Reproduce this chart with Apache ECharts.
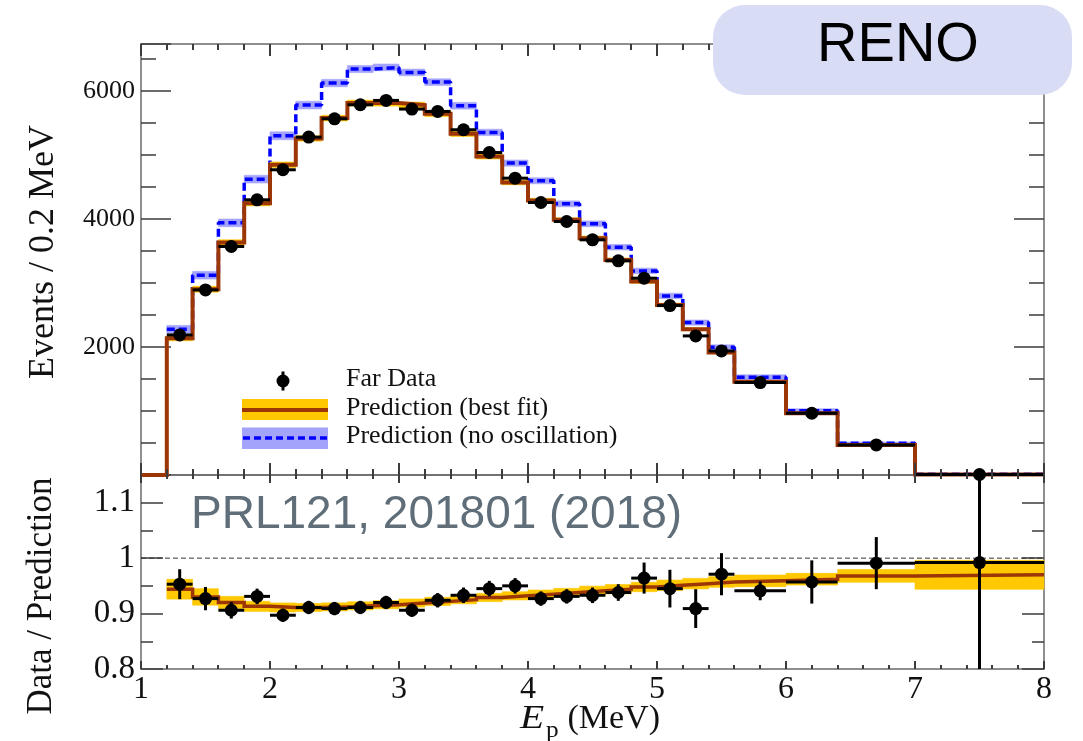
<!DOCTYPE html>
<html>
<head>
<meta charset="utf-8">
<script src="https://cdn.jsdelivr.net/npm/echarts@6/dist/echarts.min.js"></script>
<style>
  html, body { margin: 0; padding: 0; background: #fff; }
  #chart { width: 1083px; height: 741px; }
</style>
</head>
<body>
<div id="chart"></div>
<script>
// Prompt energy bin edges (MeV); the first bin 1.0-1.2 is below threshold
const binEdges = [1.0, 1.2, 1.4, 1.6, 1.8, 2.0, 2.2, 2.4, 2.6, 2.8, 3.0, 3.2, 3.4, 3.6, 3.8,
                  4.0, 4.2, 4.4, 4.6, 4.8, 5.0, 5.2, 5.4, 5.6, 6.0, 6.4, 7.0, 8.0];
// measured bins start at 1.2 MeV
const measEdges = binEdges.slice(1);

// Far detector data, events / 0.2 MeV
const farData    = [2187, 2890, 3568, 4297, 4766, 5276, 5562, 5781, 5849, 5714, 5677, 5391, 5036,
                    4635, 4255, 3958, 3672, 3344, 3073, 2646, 2172, 1937, 1443, 964, 469, 8];
const farDataErr = [47, 54, 60, 66, 69, 73, 75, 76, 76, 76, 75, 73, 71,
                    68, 65, 63, 61, 58, 55, 51, 47, 44, 38, 31, 22, 3];
// best-fit prediction (includes the empty 1.0-1.2 bin)
const bestFit    = [0, 2136, 2901, 3630, 4245, 4844, 5255, 5573, 5807, 5807, 5776, 5641, 5328, 4974,
                    4568, 4286, 3984, 3698, 3359, 3021, 2656, 2276, 1911, 1458, 964, 469, 8];
// relative uncertainty of the best-fit prediction, per measured bin
const fitRelErr  = [0.019, 0.016, 0.012, 0.010, 0.009, 0.008, 0.008, 0.008, 0.008, 0.008, 0.008, 0.008, 0.008,
                    0.008, 0.008, 0.008, 0.009, 0.009, 0.009, 0.010, 0.010, 0.010, 0.011, 0.011, 0.012, 0.027];
// no-oscillation prediction and its uncertainty
const noOsc      = [2276, 3120, 3937, 4620, 5297, 5776, 6120, 6339, 6365, 6286, 6135, 5766, 5349,
                    4870, 4594, 4234, 3922, 3557, 3187, 2797, 2380, 1995, 1526, 1005, 495, 10];
const noOscErr   = [60, 60, 60, 60, 62, 60, 58, 55, 52, 52, 52, 52, 50,
                    48, 47, 46, 45, 44, 43, 42, 40, 38, 38, 30, 20, 2];

// Data / Prediction (no oscillation)
const ratioData  = [0.953, 0.927, 0.906, 0.931, 0.897, 0.911, 0.909, 0.911, 0.920, 0.906, 0.924, 0.933, 0.945,
                    0.950, 0.927, 0.931, 0.933, 0.938, 0.964, 0.945, 0.909, 0.971, 0.941, 0.957, 0.991, 0.992];
const ratioErr   = [0.027, 0.021, 0.015, 0.014, 0.012, 0.012, 0.012, 0.012, 0.012, 0.012, 0.013, 0.014, 0.014,
                    0.014, 0.013, 0.013, 0.014, 0.015, 0.028, 0.034, 0.035, 0.038, 0.017, 0.039, 0.047, 0.40];
// best fit / no oscillation
const ratioFit   = [0.944, 0.930, 0.920, 0.913, 0.911, 0.911, 0.912, 0.914, 0.916, 0.919, 0.922, 0.925, 0.929,
                    0.932, 0.935, 0.938, 0.941, 0.944, 0.948, 0.951, 0.954, 0.957, 0.959, 0.962, 0.968, 0.970];
const unityRatio = 1;

// axis ranges and tick spacing
const xRange = [1, 8];
const xMajor = 1, xMinor = 0.2;
const yTopRange = [0, 6730];
const yTopMajor = 2000, yTopMinor = 500;
const yBotRange = [0.8, 1.15];
const yBotMajor = 0.1, yBotMinor = 0.05;

const SERIF = '"Liberation Serif", "DejaVu Serif", serif';
const SANS = '"Liberation Sans", Arial, sans-serif';
const FRAME = '#6a6a6a';
const TICK = '#3c3c3c';
const BROWN = '#9c3606';
const ORANGE = '#ffc800';
const BLUE = '#0000ff';
const LIGHTBLUE = '#a3a3fc';

// histogram outline as step points: one point per bin low edge plus the last edge
function stepPoints(edges, vals) {
  const pts = vals.map((v, i) => [edges[i], v]);
  pts.push([edges[vals.length], vals[vals.length - 1]]);
  return pts;
}

function bandData(edges, vals, lowOf, highOf) {
  return vals.map((v, i) => [edges[i], edges[i + 1], lowOf(v, i), highOf(v, i)]);
}

function bandRenderer(color) {
  return function (params, api) {
    const p0 = api.coord([api.value(0), api.value(3)]);
    const p1 = api.coord([api.value(1), api.value(2)]);
    return {
      type: 'rect',
      shape: { x: p0[0], y: p0[1], width: p1[0] - p0[0], height: p1[1] - p0[1] },
      style: { fill: color, stroke: color, lineWidth: 0.6 }
    };
  };
}

function pointData(edges, vals, errs) {
  return vals.map((v, i) => [(edges[i] + edges[i + 1]) / 2, edges[i], edges[i + 1], v, errs[i]]);
}

function pointRenderer(params, api) {
  const cs = params.coordSys;
  const xc = api.value(0), lo = api.value(1), hi = api.value(2), v = api.value(3), e = api.value(4);
  const c = api.coord([xc, v]);
  const a = api.coord([lo, v]);
  const b = api.coord([hi, v]);
  let top = api.coord([xc, v + e])[1];
  let bot = api.coord([xc, v - e])[1];
  top = Math.max(top, cs.y);
  bot = Math.min(bot, cs.y + cs.height);
  return {
    type: 'group',
    children: [
      { type: 'line', shape: { x1: a[0], y1: c[1], x2: b[0], y2: c[1] }, style: { stroke: '#000', lineWidth: 3 } },
      { type: 'line', shape: { x1: c[0], y1: top, x2: c[0], y2: bot }, style: { stroke: '#000', lineWidth: 3 } },
      { type: 'circle', shape: { cx: c[0], cy: c[1], r: 6.5 }, style: { fill: '#000' } }
    ]
  };
}

// energy-axis ticks on the top and bottom edges of a panel (major every 1 MeV, minor every 0.2 MeV)
const xTickSteps = Math.round((xRange[1] - xRange[0]) / xMinor);
function xTickData(yRef) {
  const out = [];
  for (let k = 0; k <= xTickSteps; k++) {
    const v = +(xRange[0] + k * xMinor).toFixed(3);
    const major = Math.abs(v / xMajor - Math.round(v / xMajor)) < 1e-6 ? 1 : 0;
    out.push([v, major, yRef]);
  }
  return out;
}
function xTickRenderer(majorLen, minorLen) {
  return function (params, api) {
    const cs = params.coordSys;
    const x = Math.round(api.coord([api.value(0), api.value(2)])[0]);
    const len = api.value(1) ? majorLen : minorLen;
    return {
      type: 'group',
      children: [
        { type: 'rect', shape: { x: x - 1, y: cs.y, width: 2, height: len }, style: { fill: TICK } },
        { type: 'rect', shape: { x: x - 1, y: cs.y + cs.height - len, width: 2, height: len }, style: { fill: TICK } }
      ]
    };
  };
}

function xAxisDef(gridIndex, position, labelOpt) {
  return {
    type: 'value', gridIndex, position, min: xRange[0], max: xRange[1], interval: xMajor,
    axisLine: { show: true, onZero: false, lineStyle: { color: FRAME, width: 1.5 } },
    axisTick: { show: false },
    axisLabel: labelOpt || { show: false },
    splitLine: { show: false }
  };
}

function yAxisDef(gridIndex, position, range, interval, tickLen, labelOpt, showLine) {
  return {
    type: 'value', gridIndex, position, min: range[0], max: range[1], interval,
    axisLine: { show: showLine, onZero: false, lineStyle: { color: FRAME, width: 1.5 } },
    axisTick: { show: true, inside: true, length: tickLen, lineStyle: { color: TICK, width: 1.5 } },
    axisLabel: labelOpt || { show: false },
    splitLine: { show: false }
  };
}

const xLabels = { show: true, margin: 5, fontSize: 32, fontFamily: SERIF, color: '#111' };
const topLabels = {
  show: true, margin: 6, fontSize: 26, fontFamily: SERIF, color: '#111',
  formatter: v => (v > 0 && v % yTopMajor === 0) ? String(v) : ''
};
const botLabels = {
  show: true, margin: 6, fontSize: 33, fontFamily: SERIF, color: '#111',
  formatter: v => {
    const k = Math.round(v * 10);
    return Math.abs(v * 10 - k) < 1e-6 ? String(k / 10) : '';
  }
};

function titleText(x, y, text, font, align, extra) {
  return Object.assign({
    type: 'text', x, y, z: 10,
    style: { text, font, fill: '#111', textAlign: align, align,
             textVerticalAlign: 'middle', verticalAlign: 'middle' }
  }, extra || {});
}

const chart = echarts.init(document.getElementById('chart'), null, { renderer: 'canvas' });

const option = {
  animation: false,
  backgroundColor: '#fff',
  grid: [
    { left: 141, top: 44, width: 903, height: 431, containLabel: false, outerBoundsMode: 'none' },
    { left: 141, top: 475, width: 903, height: 194, containLabel: false, outerBoundsMode: 'none' }
  ],
  xAxis: [
    xAxisDef(0, 'bottom'),
    xAxisDef(0, 'top'),
    xAxisDef(1, 'bottom', xLabels),
    xAxisDef(1, 'top')
  ],
  yAxis: [
    yAxisDef(0, 'left', yTopRange, yTopMajor, 30, topLabels, true),
    yAxisDef(0, 'right', yTopRange, yTopMajor, 30, null, true),
    yAxisDef(0, 'left', yTopRange, yTopMinor, 15, null, false),
    yAxisDef(0, 'right', yTopRange, yTopMinor, 15, null, false),
    yAxisDef(1, 'left', yBotRange, yBotMajor, 22, botLabels, true),
    yAxisDef(1, 'right', yBotRange, yBotMajor, 22, null, true),
    yAxisDef(1, 'left', yBotRange, yBotMinor, 12, null, false),
    yAxisDef(1, 'right', yBotRange, yBotMinor, 12, null, false)
  ],
  series: [
    // ---- upper panel ----
    {
      name: 'noOscBand', type: 'custom', xAxisIndex: 0, yAxisIndex: 0, z: 2,
      renderItem: bandRenderer(LIGHTBLUE),
      encode: { x: [0, 1], y: [2, 3] },
      data: bandData(measEdges, noOsc, (v, i) => v - noOscErr[i], (v, i) => v + noOscErr[i])
    },
    {
      name: 'Prediction (no oscillation)', type: 'line', xAxisIndex: 0, yAxisIndex: 0, z: 3,
      step: 'end', symbol: 'none', clip: false,
      lineStyle: { color: BLUE, width: 3.5, type: [8, 4] },
      data: stepPoints(measEdges, noOsc)
    },
    {
      name: 'fitBand', type: 'custom', xAxisIndex: 0, yAxisIndex: 0, z: 4,
      renderItem: bandRenderer(ORANGE),
      encode: { x: [0, 1], y: [2, 3] },
      data: bandData(measEdges, bestFit.slice(1), (v, i) => v * (1 - fitRelErr[i]), (v, i) => v * (1 + fitRelErr[i]))
    },
    {
      name: 'Prediction (best fit)', type: 'line', xAxisIndex: 0, yAxisIndex: 0, z: 5,
      step: 'end', symbol: 'none', clip: false,
      lineStyle: { color: BROWN, width: 4, join: 'miter' },
      data: stepPoints(binEdges, bestFit)
    },
    {
      name: 'Far Data', type: 'custom', xAxisIndex: 0, yAxisIndex: 0, z: 6, clip: false,
      renderItem: pointRenderer,
      encode: { x: 0, y: 3 },
      data: pointData(measEdges, farData, farDataErr)
    },
    {
      name: 'xTicksTop', type: 'custom', xAxisIndex: 0, yAxisIndex: 0, z: 7, clip: false,
      renderItem: xTickRenderer(12, 6),
      encode: { x: 0, y: 2 },
      data: xTickData(yTopRange[0])
    },
    // ---- ratio panel ----
    {
      name: 'ratioBand', type: 'custom', xAxisIndex: 2, yAxisIndex: 4, z: 2,
      renderItem: bandRenderer(ORANGE),
      encode: { x: [0, 1], y: [2, 3] },
      data: bandData(measEdges, ratioFit, (v, i) => v - fitRelErr[i] * v, (v, i) => v + fitRelErr[i] * v)
    },
    {
      name: 'ratioFit', type: 'line', xAxisIndex: 2, yAxisIndex: 4, z: 3,
      step: 'end', symbol: 'none',
      lineStyle: { color: BROWN, width: 3.5, join: 'miter' },
      data: stepPoints(measEdges, ratioFit)
    },
    {
      name: 'unity', type: 'line', xAxisIndex: 2, yAxisIndex: 4, z: 4, symbol: 'none',
      lineStyle: { color: '#333', width: 1, type: [5, 3] },
      data: [[xRange[0], unityRatio], [xRange[1], unityRatio]]
    },
    {
      name: 'ratioData', type: 'custom', xAxisIndex: 2, yAxisIndex: 4, z: 6, clip: false,
      renderItem: pointRenderer,
      encode: { x: 0, y: 3 },
      data: pointData(measEdges, ratioData, ratioErr)
    },
    {
      name: 'xTicksBottom', type: 'custom', xAxisIndex: 2, yAxisIndex: 4, z: 7, clip: false,
      renderItem: xTickRenderer(8, 4),
      encode: { x: 0, y: 2 },
      data: xTickData(yBotRange[0])
    }
  ],
  graphic: [
    // axis titles
    titleText(44, 252, 'Events / 0.2 MeV', '36px ' + SERIF, 'center', { rotation: Math.PI / 2 }),
    titleText(42, 596, 'Data / Prediction', '35px ' + SERIF, 'center', { rotation: Math.PI / 2 }),
    titleText(520, 719, 'E', 'italic 33px ' + SERIF, 'left', { scaleX: 1.2 }),
    titleText(546, 731, 'p', '23px ' + SERIF, 'left', { scaleX: 1.1 }),
    titleText(660, 719, '(MeV)', '34px ' + SERIF, 'right'),
    // legend
    {
      type: 'line', z: 10, shape: { x1: 283, y1: 371.5, x2: 283, y2: 390.5 },
      style: { stroke: '#000', lineWidth: 3 }
    },
    { type: 'circle', z: 10, shape: { cx: 283, cy: 381, r: 6.5 }, style: { fill: '#000' } },
    titleText(346, 379, 'Far Data', '26px ' + SERIF, 'left'),
    { type: 'rect', z: 10, shape: { x: 242, y: 399, width: 86, height: 21 }, style: { fill: ORANGE } },
    {
      type: 'line', z: 10, shape: { x1: 242, y1: 410, x2: 328, y2: 410 },
      style: { stroke: BROWN, lineWidth: 4 }
    },
    titleText(346, 408, 'Prediction (best fit)', '26px ' + SERIF, 'left'),
    { type: 'rect', z: 10, shape: { x: 242, y: 427.5, width: 86, height: 21.5 }, style: { fill: LIGHTBLUE } },
    {
      type: 'line', z: 10, shape: { x1: 243, y1: 438, x2: 328, y2: 438 },
      style: { stroke: BLUE, lineWidth: 3.5, lineDash: [7, 4] }
    },
    titleText(346, 436, 'Prediction (no oscillation)', '26px ' + SERIF, 'left'),
    // publication reference
    {
      type: 'text', x: 191, y: 515, z: 10,
      style: { text: 'PRL121, 201801 (2018)', font: '46px ' + SANS, fill: '#5f6e78',
               textAlign: 'left', align: 'left', textVerticalAlign: 'middle', verticalAlign: 'middle' }
    },
    // experiment badge
    {
      type: 'rect', z: 20, shape: { x: 713, y: 5, width: 359, height: 90, r: 32 },
      style: { fill: '#d9dcf5' }
    },
    {
      type: 'text', x: 898, y: 46, z: 21,
      style: { text: 'RENO', font: '56px ' + SANS, fill: '#000',
               textAlign: 'center', align: 'center', textVerticalAlign: 'middle', verticalAlign: 'middle' }
    }
  ]
};

chart.setOption(option);
</script>
</body>
</html>
